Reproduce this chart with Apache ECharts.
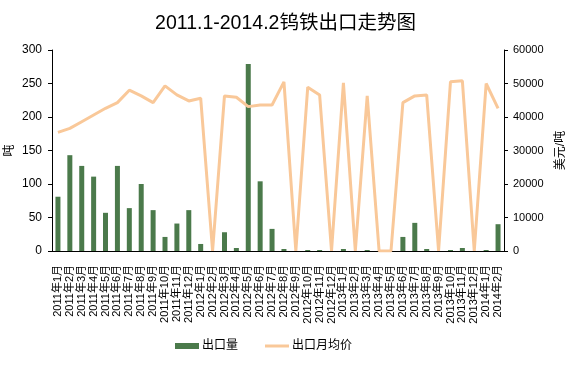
<!DOCTYPE html>
<html><head><meta charset="utf-8">
<script src="https://cdn.jsdelivr.net/npm/echarts@6/dist/echarts.min.js"></script>
<style>html,body{margin:0;padding:0;background:#fff}#c{width:571px;height:371px}</style>
</head><body><div id="c"></div>
<script>
var categories = ["2011年1月","2011年2月","2011年3月","2011年4月","2011年5月","2011年6月","2011年7月","2011年8月","2011年9月","2011年10月","2011年11月","2011年12月",
"2012年1月","2012年2月","2012年3月","2012年4月","2012年5月","2012年6月","2012年7月","2012年8月","2012年9月","2012年10月","2012年11月","2012年12月",
"2013年1月","2013年2月","2013年3月","2013年4月","2013年5月","2013年6月","2013年7月","2013年8月","2013年9月","2013年10月","2013年11月","2013年12月",
"2014年1月","2014年2月"];
var exportVolume = [81,143,127,111,57,127,64,100,61,21,41,61,
10.5,0,28,4.5,279,104,33,3,0,1.5,1.5,0,
3,0,1.5,0,0,21,42,3,0,1.5,4.5,0,1.5,40];
var avgPrice = [35400,36600,38600,40600,42600,44300,48000,46300,44300,49300,46600,44800,
45600,0,46300,45900,43100,43600,43600,50500,0,48900,46600,0,
50200,0,46300,0,0,44300,46300,46600,0,50500,50800,0,50000,42600];
var leftTicks = [0,50,100,150,200,250,300];
var rightTicks = [0,10000,20000,30000,40000,50000,60000];

var font = '"Liberation Sans","Noto Sans CJK SC",sans-serif';
var chart = echarts.init(document.getElementById('c'));
chart.setOption({
  animation:false,
  textStyle:{fontFamily:font},
  title:{text:'2011.1-2014.2钨铁出口走势图',left:'center',top:9,
    textStyle:{fontSize:19.5,fontWeight:'normal',color:'#000',fontFamily:font}},
  grid:{left:52,right:67,top:50,bottom:120,containLabel:false,outerBoundsMode:'none'},
  legend:{bottom:14,left:170,itemGap:27,itemWidth:24,itemHeight:6,
    textStyle:{fontSize:12,color:'#000',fontFamily:font,padding:[0,0,0,-2]},
    data:[{name:'出口量',icon:'rect'},{name:'出口月均价',icon:'path://M0,0 L24,0 L24,3 L0,3 Z',itemStyle:{color:'#f9c899'}}]},
  xAxis:{type:'category',data:categories,
    axisLine:{lineStyle:{color:'#000',width:1}},
    axisTick:{inside:true,length:4,lineStyle:{color:'#000'}},
    axisLabel:{rotate:90,interval:0,fontSize:11,color:'#000',margin:14,fontFamily:font}},
  yAxis:[{type:'value',min:0,max:300,interval:50,name:'吨',nameLocation:'middle',nameGap:36,nameRotate:90,
      nameMoveOverlap:false,
      nameTextStyle:{fontSize:12,color:'#000'},
      axisLine:{show:true,lineStyle:{color:'#000'}},axisTick:{show:true,length:4,lineStyle:{color:'#000'}},
      splitLine:{show:false},axisLabel:{fontSize:12,color:'#000',margin:10}},
    {type:'value',min:0,max:60000,interval:10000,name:'美元/吨',nameLocation:'middle',nameGap:50,nameRotate:90,
      nameTextStyle:{fontSize:12,color:'#000'},
      axisLine:{show:true,lineStyle:{color:'#000'}},axisTick:{show:true,length:4,lineStyle:{color:'#000'}},
      splitLine:{show:false},axisLabel:{fontSize:11,color:'#000',margin:9,formatter:function(v){return String(v);}}}],
  series:[
    {name:'出口量',type:'bar',yAxisIndex:0,data:exportVolume,barWidth:5,
     itemStyle:{color:'#4b7a4b'}},
    {name:'出口月均价',type:'line',yAxisIndex:1,data:avgPrice,symbol:'none',
     lineStyle:{color:'#f9c899',width:3},itemStyle:{color:'#f9c899'}}
  ]
});
</script></body></html>
